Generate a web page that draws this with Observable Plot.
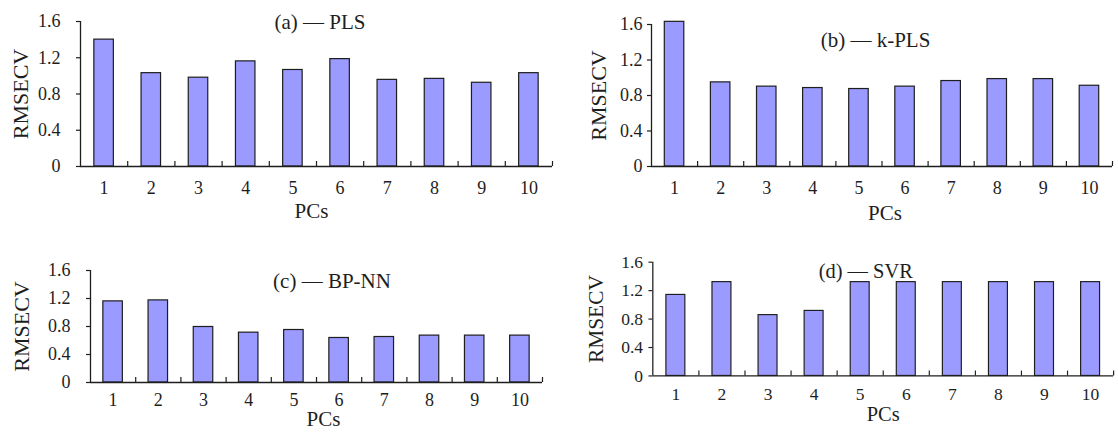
<!DOCTYPE html>
<html>
<head>
<meta charset="utf-8">
<script src="https://cdn.jsdelivr.net/npm/d3@7"></script>
<script src="https://cdn.jsdelivr.net/npm/@observablehq/plot@0.6"></script>
<style>
  html, body { margin: 0; padding: 0; background: #fff; }
  #wrap { position: relative; width: 1118px; height: 434px; overflow: hidden; background: #fff; }
  #wrap > div { position: absolute; }
  #wrap svg text { font-family: 'Liberation Serif', 'Times New Roman', serif; }
</style>
</head>
<body>
<div id="wrap">
  <div id="pa" style="left:0px;top:0px"></div>
  <div id="pb" style="left:559px;top:0px"></div>
  <div id="pc" style="left:0px;top:217px"></div>
  <div id="pd" style="left:559px;top:217px"></div>
</div>
<script>
// ---- data ----
const pcs = [1, 2, 3, 4, 5, 6, 7, 8, 9, 10];
const plsValues  = [1.40, 1.03, 0.98, 1.16, 1.065, 1.185, 0.956, 0.967, 0.924, 1.03];
const kplsValues = [1.63, 0.948, 0.90, 0.884, 0.873, 0.90, 0.963, 0.985, 0.985, 0.91];
const bpnnValues = [1.159, 1.173, 0.793, 0.712, 0.75, 0.636, 0.65, 0.67, 0.67, 0.67];
const svrValues  = [1.14, 1.32, 0.856, 0.915, 1.32, 1.32, 1.32, 1.32, 1.32, 1.32];
const yTicks = [0, 0.4, 0.8, 1.2, 1.6];
const yTickLabels = ["0", "0.4", "0.8", "1.2", "1.6"];
const titles = ["(a) — PLS", "(b) — k-PLS", "(c) — BP-NN", "(d) — SVR"];
const yLabel = "RMSECV";
const xLabel = "PCs";

// ---- layout (per panel) ----
const layouts = [
  {id: "pa", width: 559, height: 217, ml: 80, mr: 7,  mt: 21, mb: 51, xpad: 15, ypad: 16, ylx: -60, tdx: 3.5,  tdy: 0.5, pdx: -5, pdy: 45},
  {id: "pb", width: 559, height: 217, ml: 92, mr: 6,  mt: 24, mb: 51, xpad: 15, ypad: 5,  ylx: -53, tdx: -6.5, tdy: 16,  pdx: 3,  pdy: 47},
  {id: "pc", width: 559, height: 217, ml: 90, mr: 17, mt: 53, mb: 52, xpad: 11, ypad: 16, ylx: -69, tdx: 15.5, tdy: 11,  pdx: 7,  pdy: 37},
  {id: "pd", width: 575, height: 217, ml: 96, mr: 5,  mt: 46, mb: 54, xpad: 12, ypad: 6,  ylx: -58, tdx: -18,  tdy: 10,  pdx: 0,  pdy: 40}
];
const seriesList = [plsValues, kplsValues, bpnnValues, svrValues];

const FONT = "'Liberation Serif', 'Times New Roman', serif";
const INK = "#1e1e1e";

function panel(cfg, values, title) {
  const data = pcs.map((pc, i) => ({pc, v: values[i]}));
  const bounds = pcs.map(p => p + 0.5);
  const plotW = cfg.width - cfg.ml - cfg.mr;
  const inset = (plotW / pcs.length - 19.5) / 2;
  return Plot.plot({
    width: cfg.width,
    height: cfg.height,
    marginLeft: cfg.ml,
    marginRight: cfg.mr,
    marginTop: cfg.mt,
    marginBottom: cfg.mb,
    style: {fontFamily: FONT, background: "transparent", color: INK, overflow: "visible"},
    x: {type: "linear", domain: [0.5, pcs.length + 0.5]},
    y: {domain: [0, 1.6]},
    marks: [
      Plot.rect(data, {x1: d => d.pc - 0.5, x2: d => d.pc + 0.5, y1: 0, y2: "v",
        insetLeft: inset, insetRight: inset, fill: "#9a9aff", stroke: INK, strokeWidth: 1.2}),
      Plot.ruleY([0], {stroke: INK, strokeWidth: 1.3}),
      Plot.ruleX([0.5], {y1: 0, y2: 1.6, stroke: INK, strokeWidth: 1.3}),
      Plot.ruleX(bounds, {y1: 0, y2: 0, insetTop: -5, stroke: INK, strokeWidth: 1.2}),
      Plot.axisX({ticks: pcs, tickSize: 0, tickPadding: cfg.xpad, fontSize: 18, fontFamily: FONT, fontVariant: "normal", label: null, tickFormat: d => String(d)}),
      Plot.axisY({ticks: yTicks, tickSize: 4, tickPadding: cfg.ypad, fontSize: 18, fontFamily: FONT, fontVariant: "normal", label: null,
        tickFormat: d => yTickLabels[yTicks.indexOf(d)], strokeWidth: 1.2}),
      Plot.text([yLabel], {frameAnchor: "left", textAnchor: "middle", lineAnchor: "middle", rotate: -90, dx: cfg.ylx, fontSize: 22, fill: INK}),
      Plot.text([xLabel], {frameAnchor: "bottom", dx: cfg.pdx, dy: cfg.pdy, lineAnchor: "middle", fontSize: 21, fill: INK}),
      Plot.text([title], {frameAnchor: "top", dx: cfg.tdx, dy: cfg.tdy, lineAnchor: "middle", fontSize: 21, fill: INK})
    ]
  });
}

layouts.forEach((cfg, i) => {
  document.getElementById(cfg.id).append(panel(cfg, seriesList[i], titles[i]));
});
</script>
</body>
</html>
